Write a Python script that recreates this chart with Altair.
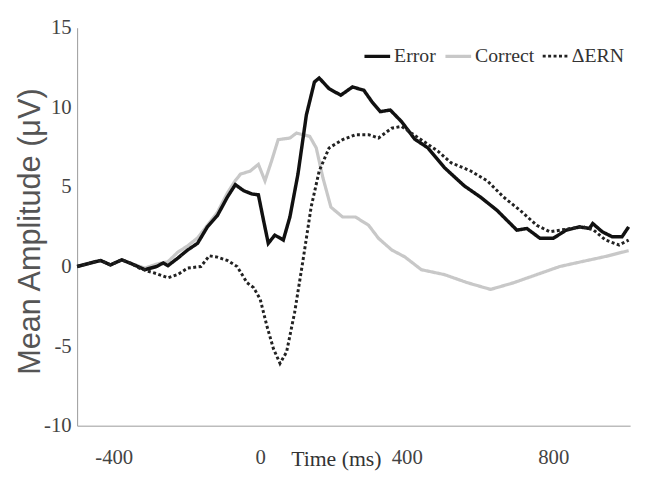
import altair as alt
import pandas as pd

series_names = ["Error", "Correct", "ΔERN"]

error_t = [-500, -467, -436, -409, -378, -351, -315, -283, -265, -252, -225, -198, -171, -144, -117, -90, -68,
           -45, -23, -5, 9, 22, 40, 63, 81, 103, 126, 148, 161, 188, 220, 252, 283, 305, 328, 355, 386, 422,
           458, 503, 557, 602, 647, 701, 728, 764, 800, 835, 872, 899, 908, 934, 961, 988, 1006]
error_v = [0.0, 0.2, 0.38, 0.1, 0.42, 0.17, -0.2, 0.0, 0.22, 0.05, 0.53, 1.04, 1.46, 2.5, 3.2, 4.35, 5.14,
           4.76, 4.56, 4.5, 2.9, 1.46, 1.97, 1.66, 3.11, 5.8, 9.52, 11.59, 11.84, 11.17, 10.76, 11.28, 11.07,
           10.35, 9.73, 9.83, 9.1, 8.0, 7.45, 6.21, 5.07, 4.35, 3.52, 2.28, 2.39, 1.77, 1.77, 2.28, 2.49, 2.39,
           2.7, 2.18, 1.87, 1.87, 2.49]

correct_t = [-500, -467, -436, -409, -378, -351, -315, -283, -252, -225, -198, -171, -144, -117, -90, -68, -54,
             -27, -5, 13, 31, 49, 81, 99, 135, 153, 171, 193, 225, 260, 296, 323, 359, 395, 440, 503, 566,
             629, 692, 755, 818, 881, 943, 1006]
correct_v = [0.0, 0.2, 0.38, 0.1, 0.42, 0.17, -0.1, 0.15, 0.3, 0.9, 1.3, 1.8, 2.6, 3.4, 4.6, 5.4, 5.8,
             6.0, 6.42, 5.38, 6.63, 7.97, 8.07, 8.38, 8.18, 7.45, 5.59, 3.73, 3.11, 3.11, 2.59, 1.77, 1.04,
             0.6, -0.2, -0.51, -1.02, -1.44, -1.02, -0.51, 0.0, 0.32, 0.63, 1.0]

dern_t = [-500, -467, -436, -409, -378, -351, -330, -306, -283, -252, -225, -198, -162, -139, -117, -90, -63,
          -36, -18, 0, 18, 36, 54, 72, 94, 117, 139, 161, 188, 225, 260, 296, 323, 359, 386, 413, 450, 485,
          521, 575, 620, 665, 710, 755, 791, 818, 850, 880, 910, 943, 980, 1006]
dern_v = [0.0, 0.2, 0.38, 0.1, 0.42, 0.17, -0.1, -0.3, -0.45, -0.71, -0.5, -0.1, 0.0, 0.67, 0.59, 0.38, 0.0,
          -1.02, -1.33, -2.06, -3.72, -5.16, -6.09, -5.37, -2.88, 0.42, 3.73, 6.0, 7.45, 7.97, 8.28, 8.28,
          8.07, 8.69, 8.8, 8.38, 7.8, 7.25, 6.52, 6.0, 5.38, 4.35, 3.52, 2.59, 2.18, 2.28, 2.4, 2.5, 2.3,
          1.66, 1.35, 1.66]

rows = []
for name, ts, vs in [("Correct", correct_t, correct_v), ("Error", error_t, error_v), ("ΔERN", dern_t, dern_v)]:
    for t, v in zip(ts, vs):
        rows.append({"series": name, "t": t, "v": v})
df = pd.DataFrame(rows)

x_ticks = [-400, 0, 400, 800]
y_ticks = [-10, -5, 0, 5, 10, 15]

chart = alt.Chart(df).mark_line(interpolate="linear").encode(
    x=alt.X("t:Q", scale=alt.Scale(domain=[-500, 1010], nice=False, zero=False),
            axis=alt.Axis(values=x_ticks, title="Time (ms)", grid=False, ticks=False,
                          labelExpr="'' + datum.value", labelFont="Liberation Serif", labelFontSize=21,
                          labelColor="#444", labelPadding=21, domainColor="#999",
                          titleFont="Liberation Serif", titleFontSize=22, titleFontWeight="normal",
                          titleColor="#333", titleX=262, titleY=33, titleBaseline="middle",
                          titleAlign="center")),
    y=alt.Y("v:Q", scale=alt.Scale(domain=[-10, 15], nice=False, zero=False),
            axis=alt.Axis(values=y_ticks, title="Mean Amplitude (μV)", grid=False, ticks=False,
                          labelExpr="'' + datum.value", labelFont="Liberation Serif", labelFontSize=21,
                          labelColor="#444", labelPadding=6, domainColor="#999",
                          titleFont="Liberation Sans", titleFontSize=31, titleFontWeight="normal",
                          titleColor="#555", titleX=-47, titleY=206, titleBaseline="middle")),
    color=alt.Color("series:N", scale=alt.Scale(domain=series_names, range=["#111111", "#c8c8c8", "#222222"]),
                    title=None),
    strokeDash=alt.StrokeDash("series:N", scale=alt.Scale(domain=series_names, range=[[1, 0], [1, 0], [3, 2.5]]),
                              title=None),
    strokeWidth=alt.StrokeWidth("series:N", scale=alt.Scale(domain=series_names, range=[3.5, 3, 3]),
                                title=None),
    detail="series:N",
).properties(
    width=560,
    height=403,
    autosize=alt.AutoSizeParams(type="none"),
    padding={"left": 70, "top": 17, "right": 8, "bottom": 50},
).configure_view(
    stroke=None
).configure_legend(
    orient="none",
    legendX=289,
    legendY=14,
    direction="horizontal",
    symbolType="stroke",
    symbolSize=676,
    labelFont="Liberation Serif",
    labelFontSize=20,
    labelColor="#333",
    labelOffset=2,
    columnPadding=2,
    padding=0,
)

chart.save("out.html", embed_options={"renderer": "svg", "actions": False})
